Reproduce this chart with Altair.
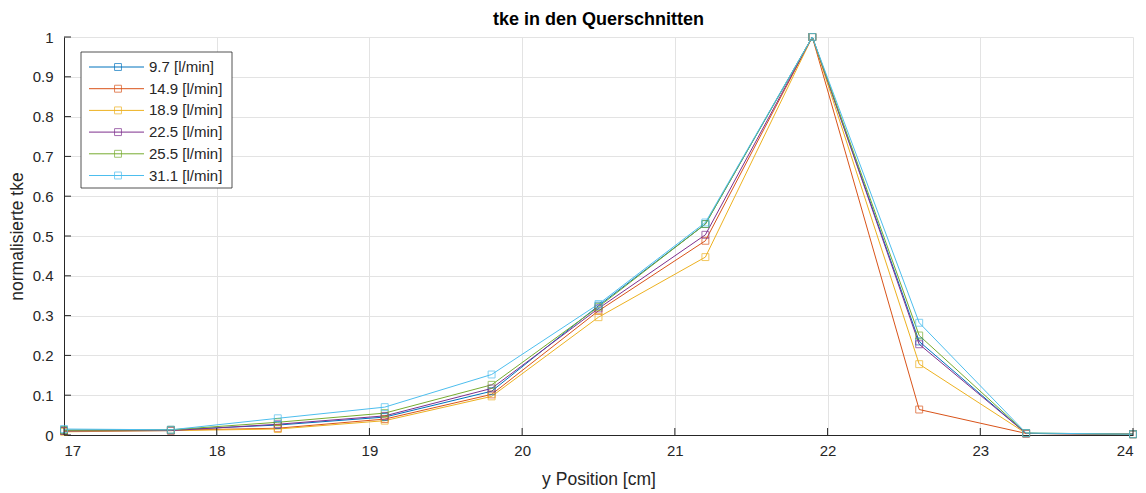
import altair as alt
import pandas as pd

# y positions of the measurement points [cm]
y_position = [17.0, 17.7, 18.4, 19.1, 19.8, 20.5, 21.2, 21.9, 22.6, 23.3, 24.0]

# flow rates and their normalised tke profiles
series_names = ["9.7 [l/min]", "14.9 [l/min]", "18.9 [l/min]",
                "22.5 [l/min]", "25.5 [l/min]", "31.1 [l/min]"]
tke_9_7 = [0.012, 0.013, 0.025, 0.045, 0.110, 0.325, 0.530, 1.0, 0.235, 0.004, 0.002]
tke_14_9 = [0.010, 0.012, 0.017, 0.040, 0.102, 0.312, 0.488, 1.0, 0.064, 0.004, 0.002]
tke_18_9 = [0.008, 0.011, 0.015, 0.036, 0.097, 0.296, 0.447, 1.0, 0.178, 0.004, 0.002]
tke_22_5 = [0.010, 0.011, 0.027, 0.048, 0.117, 0.318, 0.503, 1.0, 0.228, 0.004, 0.002]
tke_25_5 = [0.012, 0.013, 0.032, 0.055, 0.126, 0.322, 0.530, 1.0, 0.250, 0.005, 0.002]
tke_31_1 = [0.015, 0.013, 0.042, 0.070, 0.152, 0.329, 0.534, 1.0, 0.282, 0.005, 0.002]

colors = ["#0072BD", "#D95319", "#EDB120", "#7E2F8E", "#77AC30", "#4DBEEE"]

x_ticks = [17, 18, 19, 20, 21, 22, 23, 24]
y_ticks = [0.0, 0.1, 0.2, 0.3, 0.4, 0.5, 0.6, 0.7, 0.8, 0.9, 1.0]

FONT = "Liberation Sans"
AX = "#262626"
W, H = 1069, 398

rows = []
for name, vals in zip(series_names, [tke_9_7, tke_14_9, tke_18_9, tke_22_5, tke_25_5, tke_31_1]):
    for xp, v in zip(y_position, vals):
        rows.append({"pos": xp, "tke": v, "series": name})
df = pd.DataFrame(rows)

color_scale = alt.Scale(domain=series_names, range=colors)
x_scale = alt.Scale(domain=[17, 24], nice=False, zero=False)
y_scale = alt.Scale(domain=[0, 1], nice=False)

axis_style = dict(grid=True, ticks=False, labelFont=FONT, titleFont=FONT,
                  labelFontSize=15, titleFontSize=17.5, labelColor=AX, titleColor=AX,
                  titleFontWeight="normal", domainColor=AX, domainWidth=1,
                  gridColor="#e3e3e3", gridWidth=1, labelOverlap=False)

# one shared axis definition per channel, reused by every layer
x_enc = alt.X("pos:Q", scale=x_scale,
              axis=alt.Axis(values=x_ticks, format="d", title="y Position [cm]",
                            labelPadding=8, titlePadding=12, **axis_style))
y_enc = alt.Y("tke:Q", scale=y_scale,
              axis=alt.Axis(values=y_ticks, format=".1~f", title="normalisierte tke",
                            labelPadding=11, titlePadding=6, **axis_style))

color_enc = alt.Color("series:N", scale=color_scale, legend=None)

base = alt.Chart(df)
lines = base.mark_line(strokeWidth=1).encode(x=x_enc, y=y_enc, color=color_enc)
markers = base.mark_point(shape="square", filled=False, size=48, strokeWidth=1).encode(
    x=x_enc, y=y_enc, color=color_enc)

# inward tick marks on both axes
xt = alt.Chart(pd.DataFrame({"pos": x_ticks})).mark_rule(color=AX, strokeWidth=1).encode(
    x=x_enc, y=alt.value(H), y2=alt.value(H - 7))
yt = alt.Chart(pd.DataFrame({"tke": y_ticks})).mark_rule(color=AX, strokeWidth=1).encode(
    y=y_enc, x=alt.value(0), x2=alt.value(7))

# legend box with line + square sample per series
leg_df = pd.DataFrame({"series": series_names, "idx": list(range(len(series_names)))})
leg = alt.Chart(leg_df).transform_calculate(ly="30 + 21.7 * datum.idx")
leg_box = alt.Chart(pd.DataFrame({"a": [0]})).mark_rect(
    fill="white", stroke=AX, strokeWidth=0.8).encode(
    x=alt.value(17), x2=alt.value(168), y=alt.value(15), y2=alt.value(151))
leg_line = leg.mark_rule(strokeWidth=1).encode(
    x=alt.value(25), x2=alt.value(80),
    y=alt.Y("ly:Q", scale=None), color=color_enc)
leg_sq = leg.mark_point(shape="square", filled=False, size=48, strokeWidth=1).encode(
    x=alt.value(54), y=alt.Y("ly:Q", scale=None), color=color_enc)
leg_txt = leg.mark_text(align="left", baseline="middle", font=FONT, fontSize=15,
                        color=AX).encode(
    x=alt.value(85), y=alt.Y("ly:Q", scale=None), text="series:N")

chart = alt.layer(lines, markers, xt, yt, leg_box, leg_line, leg_sq, leg_txt).properties(
    width=W, height=H,
    background="white",
    title=alt.TitleParams("tke in den Querschnitten", font=FONT, fontSize=18,
                          fontWeight="bold", color="#000000", anchor="middle",
                          offset=1),
    autosize=alt.AutoSizeParams(type="none"),
    padding={"left": 64, "top": 37, "right": 13, "bottom": 58},
).configure_view(stroke=None)

chart.save("out.html", embed_options={"renderer": "svg", "actions": False})
